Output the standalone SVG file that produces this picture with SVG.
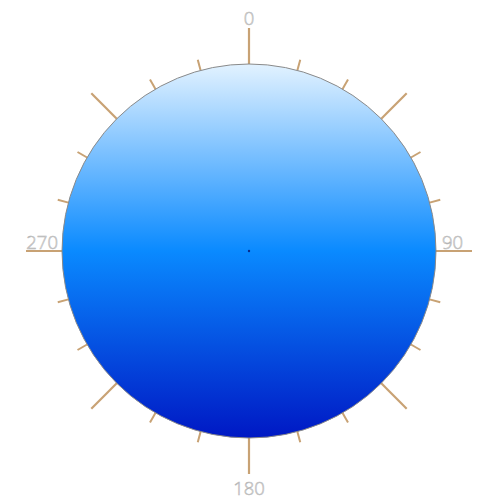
<svg xmlns="http://www.w3.org/2000/svg" width="499" height="500" viewBox="0 0 499 500">
<defs>
<linearGradient id="g" x1="0" y1="0" x2="0" y2="1">
<stop offset="0" stop-color="#e2f2ff"/>
<stop offset="0.5" stop-color="#0a8aff"/>
<stop offset="1" stop-color="#0018c4"/>
</linearGradient>
<style>
.maj{stroke:#c8a274;stroke-width:2.2;}
.min{stroke:#c8a274;stroke-width:2;}
.lbl{font-family:"Open Sans","DejaVu Sans",sans-serif;font-size:18.5px;font-weight:300;fill:#ffffff;stroke:#b4b4b4;stroke-width:0.6;}
</style>
</defs>
<g id="connectors">
<g transform="translate(249,251)">
<line class="maj" x1="0" y1="-186" x2="0" y2="-223" transform="rotate(0)"/>
<line class="maj" x1="0" y1="-186" x2="0" y2="-223" transform="rotate(45)"/>
<line class="maj" x1="0" y1="-186" x2="0" y2="-223" transform="rotate(90)"/>
<line class="maj" x1="0" y1="-186" x2="0" y2="-223" transform="rotate(135)"/>
<line class="maj" x1="0" y1="-186" x2="0" y2="-223" transform="rotate(180)"/>
<line class="maj" x1="0" y1="-186" x2="0" y2="-223" transform="rotate(225)"/>
<line class="maj" x1="0" y1="-186" x2="0" y2="-223" transform="rotate(270)"/>
<line class="maj" x1="0" y1="-186" x2="0" y2="-223" transform="rotate(315)"/>
<line class="min" x1="0" y1="-186" x2="0" y2="-198" transform="rotate(15)"/>
<line class="min" x1="0" y1="-186" x2="0" y2="-198" transform="rotate(30)"/>
<line class="min" x1="0" y1="-186" x2="0" y2="-198" transform="rotate(60)"/>
<line class="min" x1="0" y1="-186" x2="0" y2="-198" transform="rotate(75)"/>
<line class="min" x1="0" y1="-186" x2="0" y2="-198" transform="rotate(105)"/>
<line class="min" x1="0" y1="-186" x2="0" y2="-198" transform="rotate(120)"/>
<line class="min" x1="0" y1="-186" x2="0" y2="-198" transform="rotate(150)"/>
<line class="min" x1="0" y1="-186" x2="0" y2="-198" transform="rotate(165)"/>
<line class="min" x1="0" y1="-186" x2="0" y2="-198" transform="rotate(195)"/>
<line class="min" x1="0" y1="-186" x2="0" y2="-198" transform="rotate(210)"/>
<line class="min" x1="0" y1="-186" x2="0" y2="-198" transform="rotate(240)"/>
<line class="min" x1="0" y1="-186" x2="0" y2="-198" transform="rotate(255)"/>
<line class="min" x1="0" y1="-186" x2="0" y2="-198" transform="rotate(285)"/>
<line class="min" x1="0" y1="-186" x2="0" y2="-198" transform="rotate(300)"/>
<line class="min" x1="0" y1="-186" x2="0" y2="-198" transform="rotate(330)"/>
<line class="min" x1="0" y1="-186" x2="0" y2="-198" transform="rotate(345)"/>
</g>
</g>
<g id="dial">
<circle cx="249" cy="251" r="187" fill="url(#g)" stroke="#8a8a8a" stroke-width="1"/>
<circle cx="249" cy="251" r="1.2" fill="#0a2a8a"/>
</g>
<g id="labels">
<text class="lbl" x="249" y="25" text-anchor="middle">0</text>
<text class="lbl" x="442" y="249" text-anchor="start">90</text>
<text class="lbl" x="249" y="495" text-anchor="middle">180</text>
<text class="lbl" x="58" y="249" text-anchor="end">270</text>
</g>
</svg>
